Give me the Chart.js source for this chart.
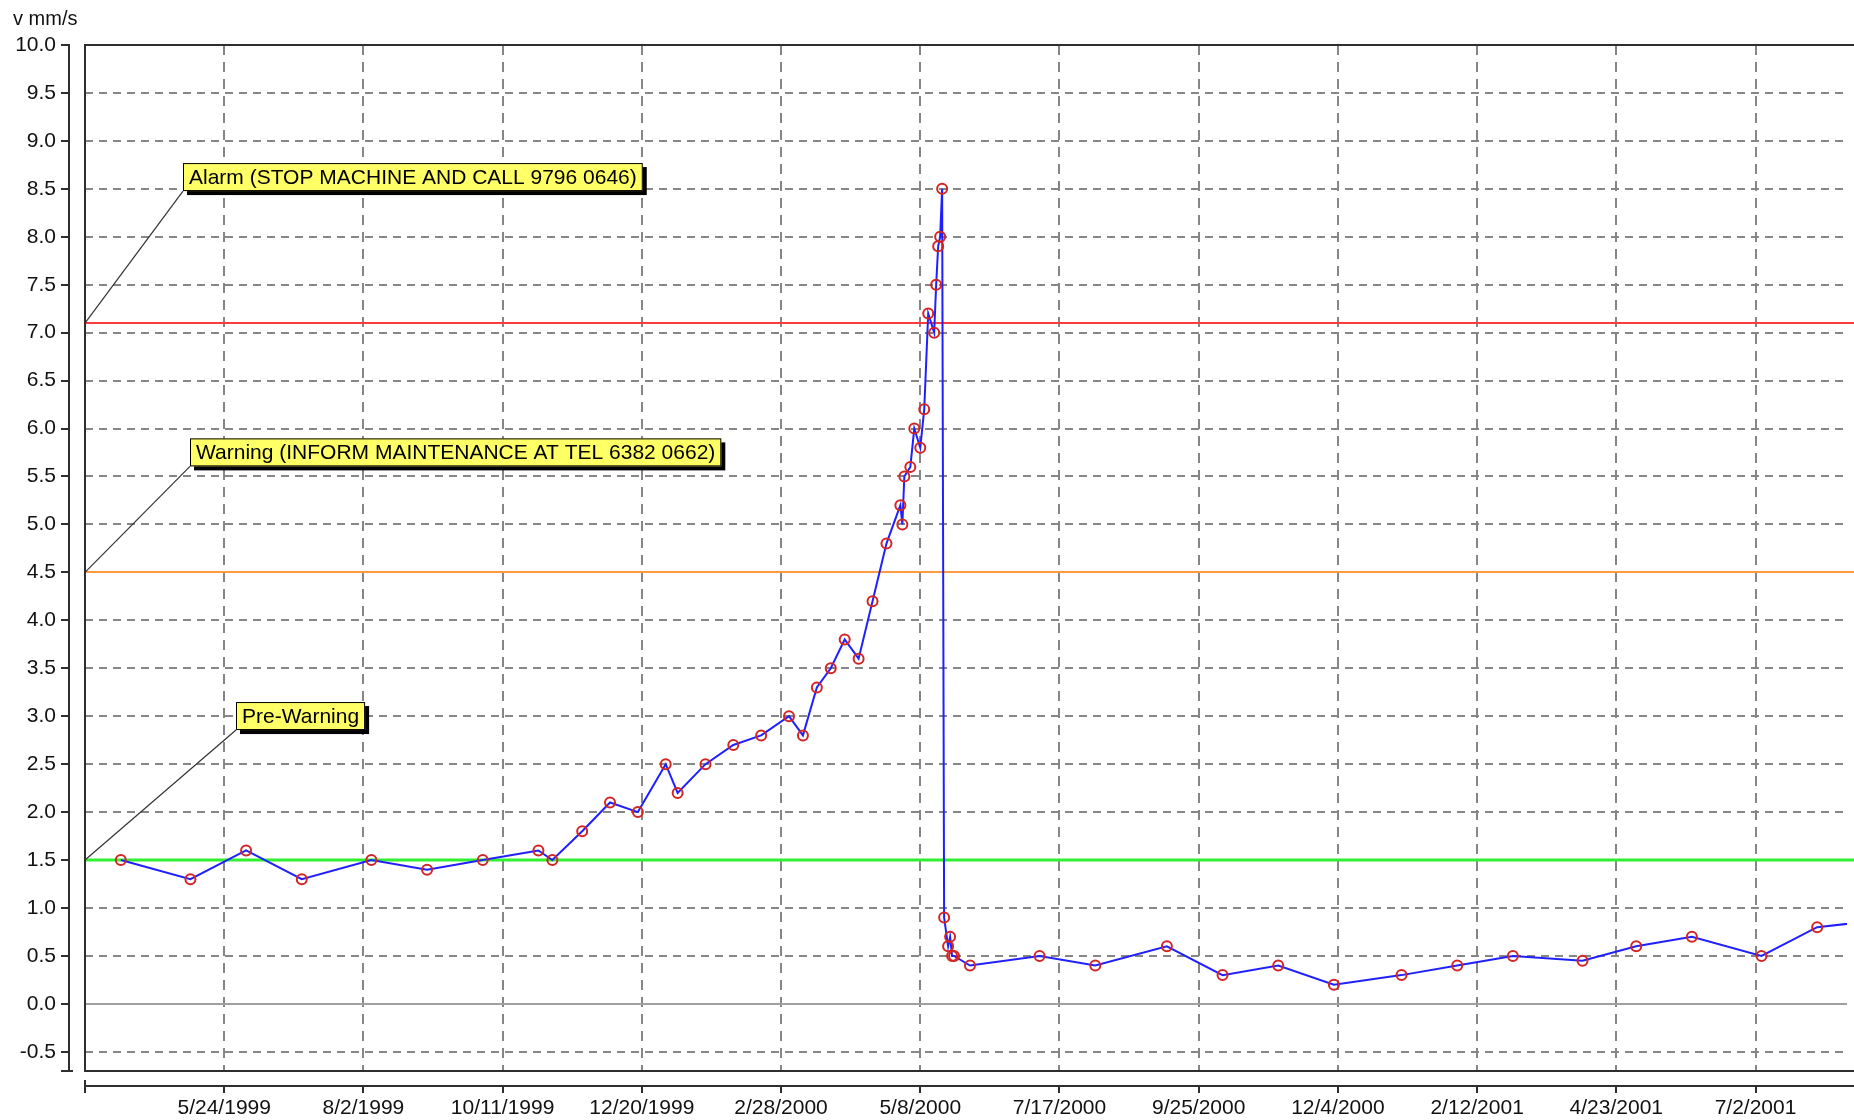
<!DOCTYPE html>
<html>
<head>
<meta charset="utf-8">
<title>Vibration trend</title>
<script src="https://cdn.jsdelivr.net/npm/chart.js@4.4.0/dist/chart.umd.min.js"></script>
<style>
  html, body { margin: 0; padding: 0; background: #ffffff; }
</style>
</head>
<body>
<canvas id="trendChart" width="1854" height="1120"></canvas>
<script>
// sample dates, as days counted from 3/15/1999
const sampleDays = [
  18, 53, 81, 109, 144, 172, 200, 228, 235, 250,
  264, 278, 292, 298, 312, 326, 340, 354, 361, 368,
  375, 382, 389, 396, 403, 410, 411, 412, 415, 417,
  420, 422, 424, 427, 428, 429, 430, 431, 432, 434,
  435, 436, 437, 445, 480, 508, 544, 572, 600, 628,
  662, 690, 718, 753, 780, 808, 843, 871, 906
];
// velocity, mm/s
const velocity = [
  1.5, 1.3, 1.6, 1.3, 1.5, 1.4, 1.5, 1.6, 1.5, 1.8,
  2.1, 2.0, 2.5, 2.2, 2.5, 2.7, 2.8, 3.0, 2.8, 3.3,
  3.5, 3.8, 3.6, 4.2, 4.8, 5.2, 5.0, 5.5, 5.6, 6.0,
  5.8, 6.2, 7.2, 7.0, 7.5, 7.9, 8.0, 8.5, 0.9, 0.6,
  0.7, 0.5, 0.5, 0.4, 0.5, 0.4, 0.6, 0.3, 0.4, 0.2,
  0.3, 0.4, 0.5, 0.45, 0.6, 0.7, 0.5, 0.8, 0.88
];
// one label every 70 days, the first one (3/15/1999) is not shown
const tickLabels = [
  "", "5/24/1999", "8/2/1999", "10/11/1999", "12/20/1999", "2/28/2000", "5/8/2000",
  "7/17/2000", "9/25/2000", "12/4/2000", "2/12/2001", "4/23/2001", "7/2/2001"
];
const limitValues = [7.1, 4.5, 1.5];
const limitNames = [
  "Alarm (STOP MACHINE AND CALL 9796 0646)",
  "Warning (INFORM MAINTENANCE AT TEL 6382 0662)",
  "Pre-Warning"
];

const FONT = "'Liberation Sans', Arial, sans-serif";
const DAY_STEP = 70;

const limitLines = {
  id: "limitLines",
  beforeDatasetsDraw(chart) {
    const { ctx, chartArea: a, scales: { y } } = chart;
    const colors = ["#ff3c3c", "#ff9a40", "#30f030"];
    const widths = [2, 2, 3];
    ctx.save();
    limitValues.forEach((v, i) => {
      const py = Math.round(y.getPixelForValue(v));
      ctx.strokeStyle = colors[i];
      ctx.lineWidth = widths[i];
      ctx.beginPath();
      ctx.moveTo(a.left, py);
      ctx.lineTo(chart.width, py);
      ctx.stroke();
    });
    ctx.restore();
  },
  afterDraw(chart) {
    const { ctx, chartArea: a, scales: { x, y } } = chart;
    ctx.save();

    // plot frame (open on the right, it runs off the window)
    ctx.strokeStyle = "#2e2e2e";
    ctx.lineWidth = 2;
    ctx.beginPath();
    ctx.moveTo(chart.width, a.top);
    ctx.lineTo(a.left, a.top);
    ctx.lineTo(a.left, a.bottom);
    ctx.lineTo(chart.width, a.bottom);
    ctx.stroke();

    // detached y axis with tick marks
    const ax = a.left - 16;
    ctx.beginPath();
    ctx.moveTo(ax, a.top - 1);
    ctx.lineTo(ax, a.bottom);
    y.ticks.forEach(t => {
      const py = Math.round(y.getPixelForValue(t.value));
      ctx.moveTo(ax - 8, py);
      ctx.lineTo(ax, py);
    });
    ctx.moveTo(ax - 8, a.bottom);
    ctx.lineTo(ax + 4, a.bottom);
    ctx.stroke();

    // detached x axis with tick marks
    const ay = a.bottom + 15;
    ctx.beginPath();
    ctx.moveTo(a.left, ay);
    ctx.lineTo(chart.width, ay);
    ctx.moveTo(a.left, ay - 6);
    ctx.lineTo(a.left, ay + 7);
    x.ticks.forEach(t => {
      const px = Math.round(x.getPixelForValue(t.value));
      ctx.moveTo(px, ay);
      ctx.lineTo(px, ay + 7);
    });
    ctx.stroke();

    // unit title
    ctx.fillStyle = "#111";
    ctx.font = "20px " + FONT;
    ctx.textBaseline = "middle";
    ctx.textAlign = "left";
    ctx.fillText("v mm/s", 13, 19);

    // limit labels with leader lines
    const offsets = [[98, 132], [105, 106], [151, 130]];
    ctx.font = "21px " + FONT;
    limitValues.forEach((v, i) => {
      const py = y.getPixelForValue(v);
      const bx = a.left + offsets[i][0];
      const bb = py - offsets[i][1];
      const w = ctx.measureText(limitNames[i]).width + 12;
      const h = 28;
      ctx.strokeStyle = "#333";
      ctx.lineWidth = 1.2;
      ctx.beginPath();
      ctx.moveTo(a.left, py);
      ctx.lineTo(bx, bb);
      ctx.stroke();
      ctx.fillStyle = "#000";
      ctx.fillRect(bx + 4, bb - h + 4, w, h);
      ctx.fillStyle = "#ffff66";
      ctx.fillRect(bx, bb - h, w, h);
      ctx.strokeStyle = "#000";
      ctx.lineWidth = 1;
      ctx.strokeRect(bx + 0.5, bb - h + 0.5, w - 1, h - 1);
      ctx.fillStyle = "#000";
      ctx.fillText(limitNames[i], bx + 6, bb - h / 2 + 1);
    });
    ctx.restore();
  }
};

const ctx = document.getElementById("trendChart").getContext("2d");
const trendChart = new Chart(ctx, {
  type: "line",
  data: {
    datasets: [
      {
        label: "v mm/s",
        data: sampleDays.map((d, i) => ({ x: d, y: velocity[i] })),
        borderColor: "#2020ff",
        borderWidth: 2,
        tension: 0,
        pointRadius: 5,
        pointBorderWidth: 2,
        pointBorderColor: "#d42424",
        pointBackgroundColor: "rgba(0,0,0,0)",
      },
    ],
  },
  options: {
    responsive: false,
    animation: false,
    layout: { padding: { top: 45, right: 0, left: 0, bottom: 0 } },
    plugins: {
      legend: { display: false },
      tooltip: { enabled: false },
    },
    scales: {
      x: {
        type: "linear",
        min: 0,
        max: 886,
        afterFit: function (scale) {
          scale.height = 49;
          scale.paddingLeft = 0;
          scale.paddingRight = 0;
        },
        ticks: {
          stepSize: DAY_STEP,
          includeBounds: false,
          maxTicksLimit: 40,
          autoSkip: false,
          maxRotation: 0,
          padding: 25,
          color: "#111",
          font: { family: FONT, size: 21 },
          callback: function (value) {
            return tickLabels[Math.round(value / DAY_STEP)] || "";
          },
        },
        grid: { drawTicks: false, lineWidth: 2, color: "#868686" },
        border: { display: false, dash: [10, 7] },
      },
      y: {
        min: -0.7,
        max: 10,
        afterFit: function (scale) { scale.width = 85; },
        ticks: {
          stepSize: 0.5,
          includeBounds: false,
          maxTicksLimit: 40,
          padding: 29,
          color: "#111",
          font: { family: FONT, size: 21 },
          callback: function (value) { return value.toFixed(1); },
        },
        grid: {
          drawTicks: false,
          lineWidth: 2,
          color: function (c) { return c.tick && c.tick.value === 0 ? "#a0a0a0" : "#868686"; },
        },
        border: {
          display: false,
          dash: function (c) { return c.tick && c.tick.value === 0 ? [] : [8, 6]; },
        },
      },
    },
  },
  plugins: [limitLines],
});
</script>
</body>
</html>
